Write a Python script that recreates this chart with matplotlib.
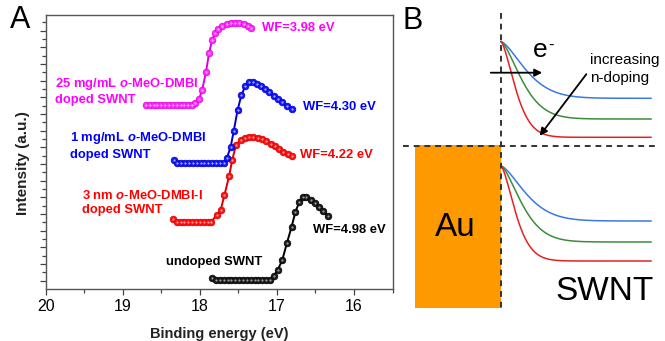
import numpy as np
import matplotlib
matplotlib.use("Agg")
import matplotlib.pyplot as plt
from matplotlib.ticker import FixedLocator, MultipleLocator, NullFormatter
from matplotlib.patches import Rectangle

plt.rcParams["font.family"] = ["Liberation Sans", "DejaVu Sans"]
plt.rcParams["mathtext.fontset"] = "custom"
plt.rcParams["mathtext.it"] = "Liberation Sans:italic:bold"
plt.rcParams["mathtext.rm"] = "Liberation Sans"

W, H = 665, 341

# ---- panel A data (binding energy in eV, intensity in arbitrary units) ----
undoped_E = [17.84, 17.79, 17.74, 17.69, 17.64, 17.59, 17.54, 17.49, 17.44, 17.39,
             17.34, 17.29, 17.24, 17.19, 17.14, 17.09, 17.04, 16.99, 16.93, 16.87,
             16.81, 16.76, 16.71, 16.66, 16.62, 16.56, 16.51, 16.46, 16.40, 16.34]
undoped_I = [11, 9.5, 9.5, 9.5, 9.5, 9.5, 9.5, 9.5, 9.5, 9.5,
             9.5, 9.5, 9.5, 9.5, 9.5, 9.5, 13, 19, 29, 46,
             62, 77, 87, 92, 92, 89, 86, 82, 78, 73]

nm3_E = [18.35, 18.30, 18.25, 18.20, 18.15, 18.10, 18.05, 18.00, 17.95, 17.90,
         17.85, 17.78, 17.73, 17.68, 17.62, 17.58, 17.53, 17.47, 17.42, 17.36,
         17.31, 17.25, 17.19, 17.14, 17.08, 17.03, 16.97, 16.92, 16.86, 16.81]
nm3_I = [70, 67.5, 67.5, 67.5, 67.5, 67.5, 67.5, 67.5, 67.5, 67.5,
         67.5, 74, 79, 94, 113, 129, 144, 149, 151, 152,
         152, 151, 150, 148, 145, 143, 140, 137, 135, 133]

mg1_E = [18.34, 18.29, 18.24, 18.19, 18.14, 18.09, 18.04, 17.99, 17.94, 17.89,
         17.84, 17.79, 17.74, 17.69, 17.65, 17.60, 17.56, 17.51, 17.46, 17.41,
         17.36, 17.31, 17.26, 17.21, 17.16, 17.10, 17.04, 16.99, 16.93, 16.87, 16.81]
mg1_I = [129, 125.7, 125.7, 125.7, 125.7, 125.7, 125.7, 125.7, 125.7, 125.7,
         125.7, 125.7, 125.7, 125.7, 131, 142, 158, 179, 194, 203,
         207, 207, 205, 203, 200, 197, 193, 190, 187, 183, 180]

mg25_E = [18.70, 18.65, 18.60, 18.55, 18.50, 18.45, 18.40, 18.35, 18.30, 18.25,
          18.20, 18.15, 18.10, 18.06, 18.01, 17.97, 17.92, 17.88, 17.84, 17.80,
          17.76, 17.71, 17.65, 17.60, 17.55, 17.49, 17.43, 17.38, 17.33]
mg25_I = [184, 184, 184, 184, 184, 184, 184, 184, 184, 184,
          184, 184, 184, 186, 190, 199, 217, 236, 249, 256,
          260, 263, 265, 266, 266, 266, 265, 263, 261]

# (energies, intensities, marker fill, edge/line, highlight)
series = [
    (undoped_E, undoped_I, "#1a1a1a", "#000000", "#9a9a9a"),
    (nm3_E, nm3_I, "#ff1010", "#d80000", "#ff9a9a"),
    (mg1_E, mg1_I, "#1414ff", "#0000c8", "#9ab4ff"),
    (mg25_E, mg25_I, "#ff2bff", "#dd00dd", "#ffb0ff"),
]

wf_labels = [("WF=3.98 eV", 262, 28, "#ff00ff"),
             ("WF=4.30 eV", 303, 107, "#0000ff"),
             ("WF=4.22 eV", 300, 155, "#ff0000"),
             ("WF=4.98 eV", 313, 230, "#000000")]
sample_labels = [("25 mg/mL $\\mathit{o}$-MeO-DMBI\ndoped SWNT", 55, 91, "#ff00ff"),
                 ("1 mg/mL $\\mathit{o}$-MeO-DMBI\ndoped SWNT", 70, 145.5, "#0000ff"),
                 ("3 nm $\\mathit{o}$-MeO-DMBI-I\ndoped SWNT", 82, 202.5, "#ff0000"),
                 ("undoped SWNT", 166, 262, "#000000")]

# ---- panel B schematic (pixel coordinates of the panel) ----
band_colors = ["#3b78e0", "#3c8c3c", "#e42222"]
upper_start = 41.7
upper_ends = [98.3, 119.0, 137.3]
lower_start = 166.0
lower_ends = [221.0, 242.0, 261.0]
bend_width = [32, 27, 19]

fig = plt.figure(figsize=(W / 100, H / 100), dpi=100)

ax = fig.add_axes([45.7 / W, 1 - 289 / H, (392.5 - 45.7) / W, (289 - 15) / H])
for E, I, fc, ec, hc in series:
    ax.plot(E, I, "-", color=ec, lw=1.4, zorder=2)
    ax.plot(E, I, "o", ms=4.8, mfc=fc, mec=ec, mew=0.5, zorder=3)
    ax.plot(E, I, "o", ms=1.6, mfc=hc, mec="none", zorder=4)

ax.set_xlim(20, 15.5)
ax.set_ylim(0, 274)
ax.xaxis.set_major_locator(FixedLocator([20, 19, 18, 17, 16]))
ax.xaxis.set_minor_locator(MultipleLocator(0.5))
ax.yaxis.set_major_locator(FixedLocator(np.arange(8.3, 275, 16.66)))
ax.yaxis.set_minor_locator(FixedLocator(np.arange(16.6, 275, 16.66)))
ax.yaxis.set_major_formatter(NullFormatter())
ax.tick_params(which="major", direction="out", length=4, width=0.9, color="#444444",
               labelsize=11.5, pad=3.5)
ax.tick_params(which="minor", direction="out", length=3, width=0.9, color="#444444")
for sp in ax.spines.values():
    sp.set_color("#555555")
    sp.set_linewidth(1.0)
ax.set_xlabel("Binding energy (eV)", fontsize=10.5, fontweight="bold", color="#222222")
ax.xaxis.set_label_coords(0.5, -0.138)
ax.set_ylabel("Intensity (a.u.)", fontsize=11, fontweight="bold", color="#222222")
ax.yaxis.set_label_coords(-0.045, 0.46)

for txt, px, py, c in wf_labels:
    fig.text(px / W, 1 - py / H, txt, color=c, fontsize=9.4, fontweight="bold",
             ha="left", va="center")
for txt, px, py, c in sample_labels:
    fig.text(px / W, 1 - py / H, txt, color=c, fontsize=9.4, fontweight="bold",
             ha="left", va="center", linespacing=1.3)
fig.text(10 / W, 1 - 20 / H, "A", fontsize=22, ha="left", va="center")

bx = fig.add_axes([400 / W, 0, 265 / W, 1])
bx.set_xlim(400, 665)
bx.set_ylim(341, 0)
bx.axis("off")

bx.add_patch(Rectangle((415, 145), 86, 163, facecolor="#ff9900", edgecolor="none", zorder=1))
bx.plot([501, 501], [13, 308], ls=(0, (3, 2.5)), color="#333333", lw=1.4, zorder=3)
bx.plot([403, 658], [146, 146], ls=(0, (3, 2.5)), color="#333333", lw=1.4, zorder=3)

xs = np.linspace(501, 651, 300)
for c, ue, le, s in zip(band_colors, upper_ends, lower_ends, bend_width):
    t = (xs - 501) / s
    bx.plot(xs, ue - (ue - upper_start) * np.exp(-t ** 1.5), color=c, lw=1.1, zorder=2)
    bx.plot(xs, le - (le - lower_start) * np.exp(-t ** 1.5), color=c, lw=1.1, zorder=2)

bx.annotate("", xy=(545, 72.7), xytext=(488, 72.7),
            arrowprops=dict(arrowstyle="-|>", color="black", lw=1.3, mutation_scale=11))
bx.annotate("", xy=(538, 138), xytext=(588, 72),
            arrowprops=dict(arrowstyle="-|>", color="black", lw=1.3, mutation_scale=11))
bx.text(533, 57, "e", fontsize=19, ha="left", va="baseline")
bx.text(548, 45, "-", fontsize=12, ha="left", va="center")
bx.text(590, 60, "increasing", fontsize=11, ha="left", va="center")
bx.text(590, 78, "n-doping", fontsize=11, ha="left", va="center")
bx.text(455, 228, "Au", fontsize=24, ha="center", va="center")
bx.text(555, 291, "SWNT", fontsize=24, ha="left", va="center")
bx.text(403, 21, "B", fontsize=22, ha="left", va="center")

fig.savefig("out.png", dpi=100)
